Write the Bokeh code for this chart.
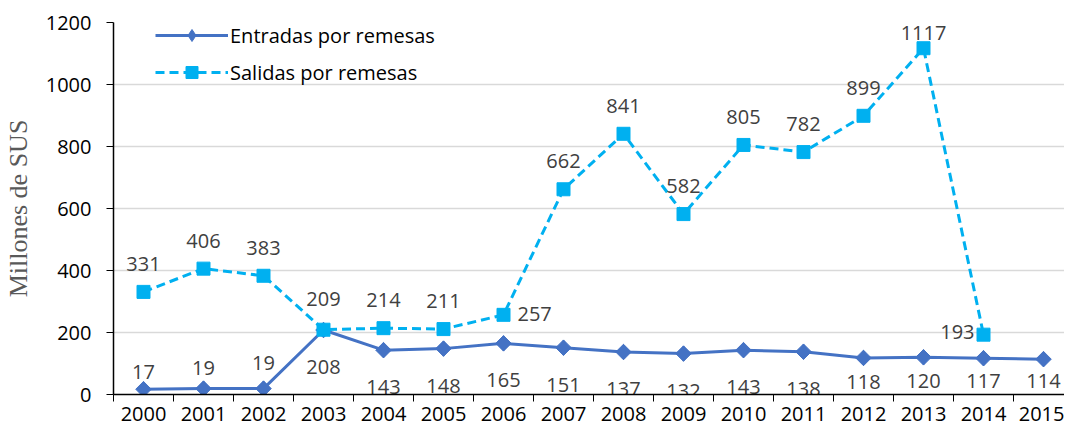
import math
from bokeh.plotting import figure
from bokeh.models import (ColumnDataSource, FixedTicker, Range1d, Legend, LegendItem)
from bokeh.core.properties import value
from bokeh.embed import file_html
from bokeh.resources import INLINE

# ---- data ----
years = ["2000", "2001", "2002", "2003", "2004", "2005", "2006", "2007",
         "2008", "2009", "2010", "2011", "2012", "2013", "2014", "2015"]
entradas = [17, 19, 19, 208, 143, 148, 165, 151, 137, 132, 143, 138, 118, 120, 117, 114]
salidas_years = years[:15]
salidas = [331, 406, 383, 209, 214, 211, 257, 662, 841, 582, 805, 782, 899, 1117, 193]
y_ticks = [0, 200, 400, 600, 800, 1000, 1200]

FONT = "Open Sans"
BLUE = "#4472C4"
CYAN = "#00B0F0"
LABEL = "#404040"

# categorical positions computed from the year lists (center of each slot)
ent_x = [years.index(y) + 0.5 for y in years]
sal_x = [years.index(y) + 0.5 for y in salidas_years]

# label placement (screen px offsets), kept separate from data
ent_dy = [-17, -21, -26] + [37] * 9 + [24, 24, 23, 22]
ent_dx = [0] * 16
ent_align = ["center"] * 16
sal_dy = [-28] * 15
sal_dx = [0] * 15
sal_align = ["center"] * 15
sal_dy[3] = -31
sal_dy[6], sal_dx[6], sal_align[6] = -1, 14, "left"
sal_dy[13] = -15
sal_dy[14], sal_dx[14], sal_align[14] = -3, -9, "right"

ent_src = ColumnDataSource(dict(x=ent_x, y=entradas, t=[str(v) for v in entradas],
                                dx=ent_dx, dy=ent_dy, al=ent_align))
sal_src = ColumnDataSource(dict(x=sal_x, y=salidas, t=[str(v) for v in salidas],
                                dx=sal_dx, dy=sal_dy, al=sal_align))

W, H = 1064, 433
left, top, bottom = 113, 22, 39
frame_w = W - left
frame_h = H - top - bottom
p = figure(width=W, height=H, output_backend="svg", toolbar_location=None,
           x_range=Range1d(0, frame_w / 60.0), y_range=Range1d(0, 1200),
           min_border_left=left, min_border_right=0, min_border_top=top,
           min_border_bottom=bottom)
p.outline_line_color = None
p.background_fill_color = "white"
p.border_fill_color = "white"

# grid
p.xgrid.grid_line_color = None
p.ygrid.grid_line_color = "#D9D9D9"
p.ygrid.grid_line_width = 1.5
p.ygrid.ticker = FixedTicker(ticks=y_ticks)

# y axis
p.yaxis.ticker = FixedTicker(ticks=y_ticks)
p.yaxis.axis_line_color = "black"
p.yaxis.axis_line_width = 1.5
p.yaxis.major_tick_line_color = "black"
p.yaxis.major_tick_out = 7
p.yaxis.major_tick_in = 0
p.yaxis.minor_tick_line_color = None
p.yaxis.major_label_text_font = FONT
p.yaxis.major_label_text_font_size = "20px"
p.yaxis.major_label_text_color = "black"
p.yaxis.major_label_standoff = 15
p.yaxis.axis_label = "Millones de SUS"
p.yaxis.axis_label_text_font = "Liberation Serif"
p.yaxis.axis_label_text_font_style = "normal"
p.yaxis.axis_label_text_font_size = "26px"
p.yaxis.axis_label_text_color = "#595959"
p.yaxis.axis_label_standoff = 10

# x axis (slots with boundary ticks)
p.xaxis.ticker = FixedTicker(ticks=[i + 0.5 for i in range(len(years))],
                             minor_ticks=list(range(len(years) + 1)))
p.xaxis.major_label_overrides = {i + 0.5: y for i, y in enumerate(years)}
p.xaxis.axis_line_color = "black"
p.xaxis.axis_line_width = 1.5
p.xaxis.major_tick_line_color = None
p.xaxis.major_tick_out = 7
p.xaxis.major_tick_in = 0
p.xaxis.minor_tick_line_color = "black"
p.xaxis.minor_tick_out = 7
p.xaxis.minor_tick_in = 0
p.xaxis.major_label_text_font = FONT
p.xaxis.major_label_text_font_size = "20px"
p.xaxis.major_label_text_color = "black"
p.xaxis.major_label_standoff = 5

# series
l1 = p.line("x", "y", source=ent_src, line_color=BLUE, line_width=3)
# diamond glyph used as legend symbol (fully covered by the rotated squares)
m1_leg = p.scatter("x", "y", source=ent_src, marker="diamond", size=15,
                   fill_color=BLUE, line_color=BLUE)
m1 = p.scatter("x", "y", source=ent_src, marker="square", angle=math.pi / 4,
               size=11, fill_color=BLUE, line_color=BLUE)
l2 = p.line("x", "y", source=sal_src, line_color=CYAN, line_width=3, line_dash="9 5")
m2 = p.scatter("x", "y", source=sal_src, marker="square", size=13,
               fill_color=CYAN, line_color=CYAN)

# data labels
p.text("x", "y", text="t", source=ent_src, x_offset="dx", y_offset="dy",
       text_align="al", text_baseline="middle", text_font=value(FONT),
       text_font_size="20px", text_color=LABEL)
p.text("x", "y", text="t", source=sal_src, x_offset="dx", y_offset="dy",
       text_align="al", text_baseline="middle", text_font=value(FONT),
       text_font_size="20px", text_color=LABEL)

item_h, gap = 30, 7
legend_top = -2  # px from frame top
legend = Legend(items=[LegendItem(label="Entradas por remesas", renderers=[l1, m1_leg]),
                       LegendItem(label="Salidas por remesas", renderers=[l2, m2])],
                location=(42, frame_h - legend_top - (2 * item_h + gap)),
                orientation="vertical",
                glyph_width=73, glyph_height=item_h, label_height=item_h, spacing=gap,
                label_standoff=2, padding=0, margin=0,
                border_line_color=None, background_fill_alpha=0,
                label_text_font=FONT, label_text_font_size="20px",
                label_text_color="black")
p.add_layout(legend)

open("out.html", "w").write(file_html(p, INLINE))
